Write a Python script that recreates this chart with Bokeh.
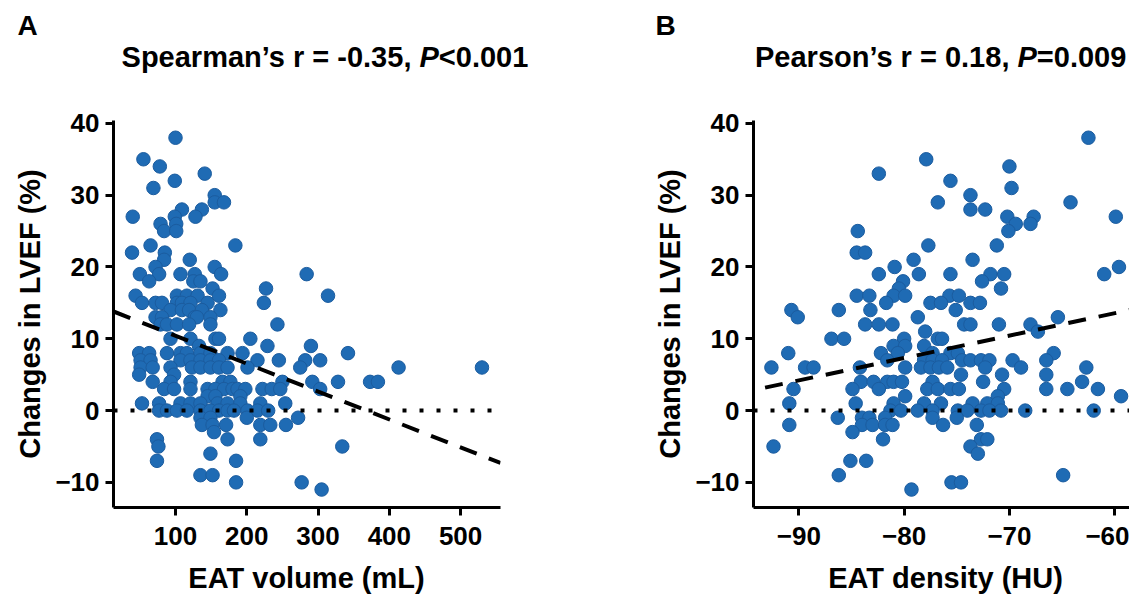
from bokeh.plotting import figure
from bokeh.layouts import row, column
from bokeh.models import FixedTicker, CustomJSTickFormatter, Span, Range1d
from bokeh.core.properties import value
from bokeh.embed import file_html
from bokeh.resources import INLINE

FONT = "Liberation Sans"

# ---------------- Panel A: EAT volume (mL) vs change in LVEF (%) ----------------
vol_x = [
    100,
    55,
    78,
    141,
    99,
    69,
    155,
    155, 168,
    109, 137,
    40, 99, 128,
    79, 101,
    84, 101,
    65, 184,
    39, 85,
    84, 120,
    72, 155,
    50, 77, 107, 127, 164, 284,
    63, 125, 135,
    152, 227,
    44, 102, 116, 131, 161, 314,
    53, 72, 81, 102, 109, 121, 145, 224,
    93, 109, 119, 137, 163,
    72, 81, 127, 130, 149,
    79, 88, 102, 119, 149, 243,
    93, 121, 156, 161, 205,
    133, 229, 290,
    49, 63, 88, 107, 116, 135, 149, 173, 194, 342,
    51, 65, 107, 121, 135, 149, 161, 215, 245, 282, 303,
    51, 68, 93, 123, 135, 149, 161, 173, 201, 275, 413, 530,
    49, 98,
    68, 93, 121, 166, 177, 250, 292, 328, 373, 384,
    84, 98, 121, 145, 156, 168, 180, 187, 198, 222, 235, 247, 303,
    145, 156, 191,
    53, 77, 107, 121, 135, 159, 173, 191, 219, 254,
    77, 88, 102, 116, 135, 149, 161, 173, 182, 201, 215, 230,
    135, 149, 200, 272,
    137, 152, 171, 219, 233, 255,
    154,
    74, 173, 219,
    76, 334,
    149,
    74, 185,
    135, 152,
    185, 277,
    305,
]
vol_y = [
    38,
    35,
    34,
    33,
    32,
    31,
    30,
    29, 29,
    28, 28,
    27, 27, 27,
    26, 26,
    25, 25,
    23, 23,
    22, 22,
    21, 21,
    20, 20,
    19, 19, 19, 19, 19, 19,
    18, 18, 18,
    17, 17,
    16, 16, 16, 16, 16, 16,
    15, 15, 15, 15, 15, 15, 15, 15,
    14, 14, 14, 14, 14,
    13, 13, 13, 13, 13,
    12, 12, 12, 12, 12, 12,
    10, 10, 10, 10, 10,
    9, 9, 9,
    8, 8, 8, 8, 8, 8, 8, 8, 8, 8,
    7, 7, 7, 7, 7, 7, 7, 7, 7, 7, 7,
    6, 6, 6, 6, 6, 6, 6, 6, 6, 6, 6, 6,
    5, 5,
    4, 4, 4, 4, 4, 4, 4, 4, 4, 4,
    3, 3, 3, 3, 3, 3, 3, 3, 3, 3, 3, 3, 3,
    2, 2, 2,
    1, 1, 1, 1, 1, 1, 1, 1, 1, 1,
    0, 0, 0, 0, 0, 0, 0, 0, 0, 0, 0, 0,
    -1, -1, -1, -1,
    -2, -2, -2, -2, -2, -2,
    -3,
    -4, -4, -4,
    -5, -5,
    -6,
    -7, -7,
    -9, -9,
    -10, -10,
    -11,
]

# ---------------- Panel B: EAT density (HU) vs change in LVEF (%) ----------------
dens_x = [
    -62.5,
    -77.9,
    -70.0,
    -82.4,
    -75.6,
    -69.8,
    -73.7,
    -76.8, -64.2,
    -73.7, -72.3,
    -70.2, -67.7, -59.9,
    -69.4, -68.0,
    -84.4, -70.1,
    -77.7, -71.2,
    -84.5, -83.7,
    -79.1, -73.5,
    -80.9, -59.6,
    -82.4, -78.6, -75.6, -71.8, -70.5, -61.0,
    -80.1, -72.6,
    -80.5, -70.8,
    -84.5, -83.3, -81.0, -79.9, -75.7, -74.8,
    -81.7, -77.5, -76.5, -73.7, -72.8,
    -90.7, -86.2, -83.2, -75.1,
    -90.1, -78.7, -65.4,
    -83.7, -82.4, -81.1, -74.3, -73.7, -71.0, -68.0,
    -78.0, -67.3,
    -86.9, -85.7, -80.0, -76.8, -76.4,
    -81.0, -79.9, -78.1,
    -91.0, -82.2, -80.6, -77.3, -75.6, -74.9, -65.8,
    -81.6, -78.1, -77.3, -76.4, -74.5, -73.7, -72.7, -71.9, -69.7, -66.5,
    -92.6, -89.4, -88.6, -84.2, -79.9, -78.4, -77.5, -76.7, -75.9, -72.3, -68.9, -62.7,
    -74.6, -70.7, -66.5,
    -84.1, -82.9, -81.6, -81.0, -80.2, -77.3, -72.5, -63.1,
    -90.5, -84.9, -82.4, -77.8, -76.8, -75.6, -74.8, -70.5, -66.5, -64.5, -61.6,
    -79.9, -71.1, -59.4,
    -90.9, -84.6, -81.0, -78.1, -76.5, -73.5, -72.1, -71.1,
    -81.3, -80.3, -78.7, -77.3, -74.9, -74.0, -72.7, -71.9, -70.8, -68.5, -62.0,
    -86.3, -84.0, -83.3, -81.8, -77.3, -75.0,
    -90.9, -84.0, -83.0, -81.8, -81.1, -76.3, -73.1,
    -84.9,
    -82.0, -72.7, -72.1,
    -92.4, -73.7,
    -73.0,
    -85.1, -83.6,
    -86.2, -64.9,
    -75.5, -74.6,
    -79.3,
]
dens_y = [
    38,
    35,
    34,
    33,
    32,
    31,
    30,
    29, 29,
    28, 28,
    27, 27, 27,
    26, 26,
    25, 25,
    23, 23,
    22, 22,
    21, 21,
    20, 20,
    19, 19, 19, 19, 19, 19,
    18, 18,
    17, 17,
    16, 16, 16, 16, 16, 16,
    15, 15, 15, 15, 15,
    14, 14, 14, 14,
    13, 13, 13,
    12, 12, 12, 12, 12, 12, 12,
    11, 11,
    10, 10, 10, 10, 10,
    9, 9, 9,
    8, 8, 8, 8, 8, 8, 8,
    7, 7, 7, 7, 7, 7, 7, 7, 7, 7,
    6, 6, 6, 6, 6, 6, 6, 6, 6, 6, 6, 6,
    5, 5, 5,
    4, 4, 4, 4, 4, 4, 4, 4,
    3, 3, 3, 3, 3, 3, 3, 3, 3, 3, 3,
    2, 2, 2,
    1, 1, 1, 1, 1, 1, 1, 1,
    0, 0, 0, 0, 0, 0, 0, 0, 0, 0, 0,
    -1, -1, -1, -1, -1, -1,
    -2, -2, -2, -2, -2, -2, -2,
    -3,
    -4, -4, -4,
    -5, -5,
    -6,
    -7, -7,
    -9, -9,
    -10, -10,
    -11,
]

assert len(vol_x) == len(vol_y), (len(vol_x), len(vol_y))
assert len(dens_x) == len(dens_y), (len(dens_x), len(dens_y))

# fitted regression lines (end points)
fit_a_x = [13, 556]
fit_a_y = [13.8, -7.3]
fit_b_x = [-93.2, -58.6]
fit_b_y = [3.2, 14.0]

y_ticks = [-10, 0, 10, 20, 30, 40]
x_ticks_a = [100, 200, 300, 400, 500]
x_ticks_b = [-90, -80, -70, -60]

xr_a = (13, 556)
xr_b = (-94.3, -58.6)
yr = (-13.5, 40.4)

panel_letters = ["A", "B"]
title_a = ["Spearman\u2019s r = -0.35,", "P", "<0.001"]
title_b = ["Pearson\u2019s r = 0.18,", "P", "=0.009"]
xlabel_a = "EAT volume (mL)"
xlabel_b = "EAT density (HU)"
ylabel = "Changes in LVEF (%)"

# ---------------- layout (pixels) ----------------
W_TOTAL = 1129
HEAD_H = 86
FOOT_H = 36
PANEL_H = 472
WA = 640
WB = W_TOTAL - WA
FRAME_LEFT = 113
FRAME_TOP = 120 - HEAD_H
FRAME_BOTTOM = HEAD_H + PANEL_H - 507
FRAME_W_A = 387
TEXT_DY = 12  # text glyphs render lower than their anchor by about this much

PT_COLOR = "#1f6bb4"
PT_LINE = "#1b5c9f"

fmt = CustomJSTickFormatter(code="return tick < 0 ? '\\u2212' + Math.abs(tick) : String(tick);")


def strip(height, y_top):
    """A text strip whose data coordinates equal the picture's pixel coordinates."""
    s = figure(width=W_TOTAL, height=height, x_range=Range1d(0, W_TOTAL),
               y_range=Range1d(y_top + height, y_top), output_backend="svg",
               toolbar_location=None, tools="", x_axis_type=None, y_axis_type=None,
               title=None, min_border=0, min_border_left=0, min_border_right=0,
               min_border_top=0, min_border_bottom=0)
    s.outline_line_color = None
    s.grid.visible = False
    s.background_fill_color = "white"
    s.border_fill_color = "white"
    return s


def put(s, x, y, txt, size, align="left", style="bold"):
    s.text(x=[x], y=[y - TEXT_DY], text=[txt], text_font=value(FONT),
           text_font_size=value(size), text_font_style=value(style), text_color="black",
           text_align=value(align), text_baseline=value("alphabetic"))


def make_panel(width, br, xr, xticks, xs, ys, fx, fy):
    p = figure(width=width, height=PANEL_H, x_range=Range1d(*xr), y_range=Range1d(*yr),
               output_backend="svg", toolbar_location=None, tools="", title=None,
               min_border_left=FRAME_LEFT, min_border_right=br, min_border_top=FRAME_TOP,
               min_border_bottom=FRAME_BOTTOM)
    p.outline_line_color = None
    p.grid.visible = False
    p.background_fill_color = "white"
    p.border_fill_color = "white"
    p.xaxis.ticker = FixedTicker(ticks=xticks, minor_ticks=[])
    p.yaxis.ticker = FixedTicker(ticks=y_ticks, minor_ticks=[])
    for ax in (p.xaxis[0], p.yaxis[0]):
        ax.formatter = fmt
        ax.axis_line_color = "black"
        ax.axis_line_width = 3
        ax.major_tick_line_color = "black"
        ax.major_tick_line_width = 3
        ax.major_tick_out = 8
        ax.major_tick_in = 0
        ax.minor_tick_out = 0
        ax.minor_tick_in = 0
        ax.major_label_text_font = FONT
        ax.major_label_text_font_style = "bold"
        ax.major_label_text_font_size = "26px"
        ax.major_label_text_color = "black"
    p.xaxis[0].major_label_standoff = 11
    ya = p.yaxis[0]
    ya.major_label_standoff = 6
    ya.axis_label = ylabel
    ya.axis_label_text_font = FONT
    ya.axis_label_text_font_style = "bold"
    ya.axis_label_text_font_size = "29px"
    ya.axis_label_text_color = "black"
    ya.axis_label_standoff = 6

    p.scatter(xs, ys, marker="circle", size=13.5, fill_color=PT_COLOR,
              line_color=PT_LINE, line_width=1)
    p.line(fx, fy, line_color="black", line_width=4, line_dash="18 13")
    p.add_layout(Span(location=0, dimension="width", line_color="black",
                      line_width=4, line_dash="4 13"))
    return p


pA = make_panel(WA, WA - FRAME_LEFT - FRAME_W_A, xr_a, x_ticks_a, vol_x, vol_y, fit_a_x, fit_a_y)
pB = make_panel(WB, 0, xr_b, x_ticks_b, dens_x, dens_y, fit_b_x, fit_b_y)

# ---------------- header: panel letters and titles ----------------
head = strip(HEAD_H, 0)
put(head, 17, 37, panel_letters[0], "28px")
put(head, 655, 37, panel_letters[1], "28px")
TS = 29
for parts, px_p in ((title_a, 419.0), (title_b, 1017.0)):
    put(head, px_p - 0.278 * TS, 68, parts[0], f"{TS}px", align="right")
    put(head, px_p, 68, parts[1], f"{TS}px", style="bold italic")
    put(head, px_p + 0.667 * TS, 68, parts[2], f"{TS}px")

# ---------------- footer: x-axis titles ----------------
foot = strip(FOOT_H, HEAD_H + PANEL_H)
put(foot, 306, 589, xlabel_a, "29px", align="center")
put(foot, 945, 589, xlabel_b, "29px", align="center")

layout = column(head, row(pA, pB), foot)
with open("out.html", "w", encoding="utf-8") as f:
    f.write(file_html(layout, INLINE))
